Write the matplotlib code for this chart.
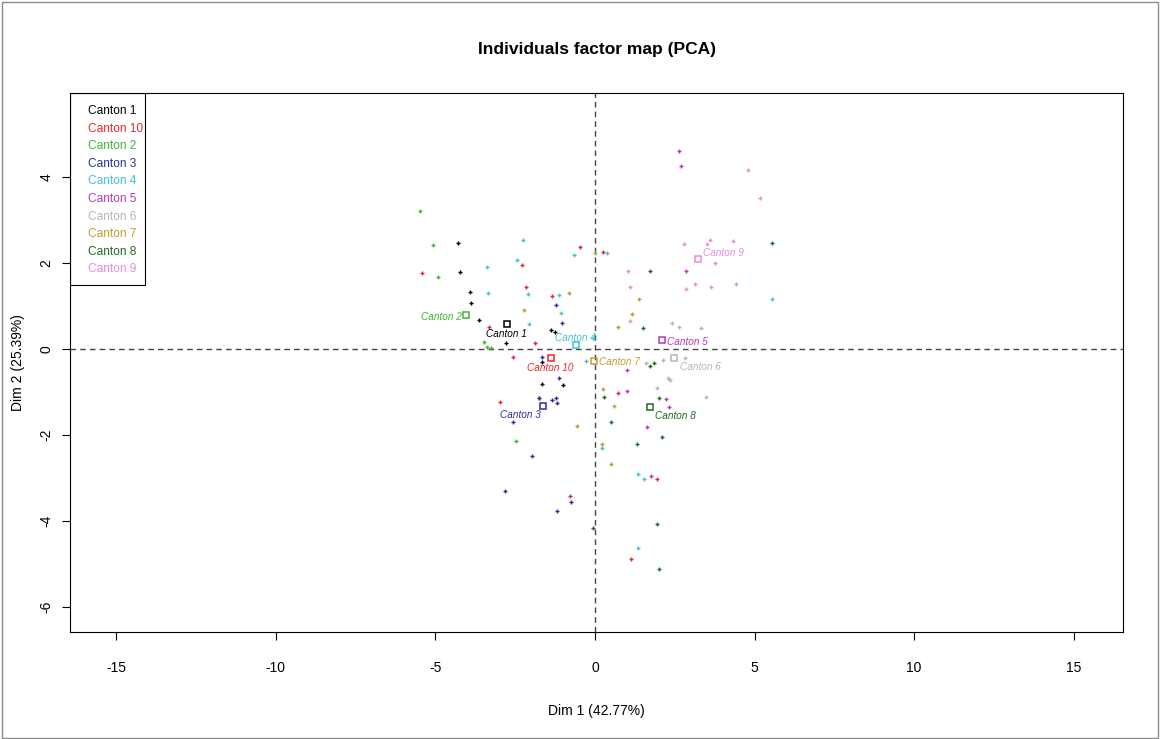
import matplotlib.pyplot as plt
from matplotlib.patches import Rectangle

plt.rcParams['font.family'] = ['Liberation Sans', 'DejaVu Sans']
plt.rcParams['axes.unicode_minus'] = False

# individuals coordinates per canton (Dim 1, Dim 2)
cantons = ["Canton 1", "Canton 10", "Canton 2", "Canton 3", "Canton 4",
           "Canton 5", "Canton 6", "Canton 7", "Canton 8", "Canton 9"]
colors = ["black", "#E8262E", "#3CB534", "#2E2E9C", "#3FC3D6",
          "#B23AB5", "#B5B5B5", "#C49A30", "#1F6A23", "#E08FDB"]

c1_x = [-4.28, -4.23, -3.91, -3.87, -3.62, -1.39, -1.25, -2.79, -1.67, -1.67, -0.99]
c1_y = [2.47, 1.78, 1.33, 1.06, 0.67, 0.43, 0.39, 0.13, -0.31, -0.81, -0.84]
c10_x = [-0.47, 0.26, -2.29, -5.40, -2.16, -1.34, -3.32, -1.87, -2.56, -2.98, -1.75, -0.77, 0.71, 1.96, 1.12]
c10_y = [2.36, 2.26, 1.94, 1.76, 1.44, 1.22, 0.50, 0.13, -0.18, -1.24, -1.15, -3.41, -1.02, -3.02, -4.89]
c2_x = [-5.48, -5.08, -4.91, -3.48, -3.37, -3.26, -2.47]
c2_y = [3.21, 2.42, 1.67, 0.17, 0.05, 0.02, -2.13]
c3_x = [-1.21, -1.02, -1.67, -1.12, -1.75, -1.33, -1.23, -1.18, -2.58, -1.96, -2.82, -0.75, -1.18]
c3_y = [1.01, 0.61, -0.18, -0.68, -1.13, -1.19, -1.13, -1.26, -1.70, -2.50, -3.31, -3.55, -3.76]
c4_x = [-2.24, 0.39, -2.43, -0.65, -3.37, -3.35, -2.11, -1.12, -1.06, -2.06, -0.28, -0.07, 0.22, 5.56, 1.36, 1.53, 1.36]
c4_y = [2.53, 2.24, 2.07, 2.18, 1.91, 1.31, 1.28, 1.25, 0.83, 0.58, -0.27, 0.25, -2.31, 1.15, -2.91, -3.02, -4.63]
c5_x = [2.62, 2.69, 2.85, 1.02, 0.99, 2.24, 2.33, 1.64, 1.77]
c5_y = [4.59, 4.25, 1.81, -0.50, -0.97, -1.16, -1.36, -1.82, -2.96]
c6_x = [2.43, 2.64, 3.31, 1.60, 2.14, 2.83, 2.28, 2.35, 1.93, 3.47]
c6_y = [0.60, 0.52, 0.49, -0.32, -0.26, -0.22, -0.68, -0.72, -0.90, -1.11]
c7_x = [0.01, -0.80, -2.21, 0.73, 1.38, 1.16, 0.25, 0.61, -0.56, 0.22, 0.49]
c7_y = [2.24, 1.30, 0.91, 0.52, 1.15, 0.81, -0.92, -1.33, -1.80, -2.21, -2.67]
c8_x = [5.54, 1.74, 1.51, 1.72, 1.85, 0.30, 2.01, 0.51, 2.09, 1.33, 1.96, -0.07, 2.01]
c8_y = [2.47, 1.81, 0.49, -0.39, -0.33, -1.11, -1.13, -1.69, -2.05, -2.22, -4.07, -4.17, -5.11]
c9_x = [4.79, 5.17, 2.80, 3.50, 3.62, 4.33, 3.76, 1.05, 1.11, 2.84, 3.15, 3.63, 4.43, 1.09]
c9_y = [4.16, 3.50, 2.45, 2.45, 2.53, 2.50, 1.99, 1.81, 1.45, 1.39, 1.52, 1.45, 1.50, 0.64]

xs = [c1_x, c10_x, c2_x, c3_x, c4_x, c5_x, c6_x, c7_x, c8_x, c9_x]
ys = [c1_y, c10_y, c2_y, c3_y, c4_y, c5_y, c6_y, c7_y, c8_y, c9_y]

# barycentres of the cantons
bary_x = [-2.76, -1.39, -4.05, -1.64, -0.60, 2.09, 2.48, -0.03, 1.73, 3.22]
bary_y = [0.57, -0.22, 0.78, -1.32, 0.10, 0.21, -0.22, -0.29, -1.35, 2.09]

# label placement relative to the barycentre (pixels, alignment)
lab_off = [(0, -10, "center"), (0, -10, "center"), (-4, -2, "right"), (-22, -9, "center"),
           (0, 7, "center"), (5, -2, "left"), (6, -9, "left"), (5, -1, "left"),
           (5, -9, "left"), (5, 6, "left")]

fig = plt.figure(figsize=(11.63, 7.39), dpi=100)
ax = fig.add_axes([0.0602, 0.1448, 0.9054, 0.7294])

ax.axhline(0, color="#444444", lw=1, ls=(0, (4, 3)), zorder=1)
ax.axvline(0, color="#444444", lw=1, ls=(0, (4, 3)), zorder=1)

for i in range(len(cantons)):
    ax.plot(xs[i], ys[i], ls="none", marker="+", ms=3.5, mew=1, color=colors[i], zorder=2)
    ax.plot(bary_x[i], bary_y[i], ls="none", marker="s", ms=5, mfc="none", mew=1.1,
            color=colors[i], zorder=3)
    dx, dy, ha = lab_off[i]
    ax.annotate(cantons[i], (bary_x[i], bary_y[i]), xytext=(dx, dy), textcoords="offset pixels",
                ha=ha, va="center", fontsize=7.2, style="italic", color=colors[i], zorder=4)

ax.set_xlim(-16.44, 16.54)
ax.set_ylim(-6.58, 5.95)
ax.set_xticks([-15, -10, -5, 0, 5, 10, 15])
ax.set_yticks([-6, -4, -2, 0, 2, 4])
ax.tick_params(direction="out", length=6, width=0.8, labelsize=10)
ax.tick_params(axis="x", pad=15)
ax.tick_params(axis="y", pad=6)
for lab in ax.get_yticklabels():
    lab.set_rotation(90)
    lab.set_va("center")
for sp in ax.spines.values():
    sp.set_linewidth(0.8)

ax.set_xlabel("Dim 1 (42.77%)", fontsize=10, labelpad=21)
ax.set_ylabel("Dim 2 (25.39%)", fontsize=10, labelpad=10)
ax.text(0.5, 1 + 43 / 539, "Individuals factor map (PCA)", transform=ax.transAxes,
        ha="center", va="center", fontsize=12.5, fontweight="bold")

# legend drawn as a box with coloured labels
ax.add_patch(Rectangle((0, 1 - 192 / 539), 75 / 1053, 192 / 539, transform=ax.transAxes,
                       fill=False, edgecolor="black", lw=0.8, zorder=5))
for i, name in enumerate(cantons):
    ax.text(18 / 1053, 1 - (18 + 17.6 * i) / 539, name, transform=ax.transAxes,
            ha="left", va="center", fontsize=8.6, color=colors[i], zorder=5)

fig.patches.append(Rectangle((0.002, 0.002), 0.994, 0.995, transform=fig.transFigure,
                             fill=False, edgecolor="#8a8a8a", lw=1))

fig.savefig("out.png", dpi=100)
